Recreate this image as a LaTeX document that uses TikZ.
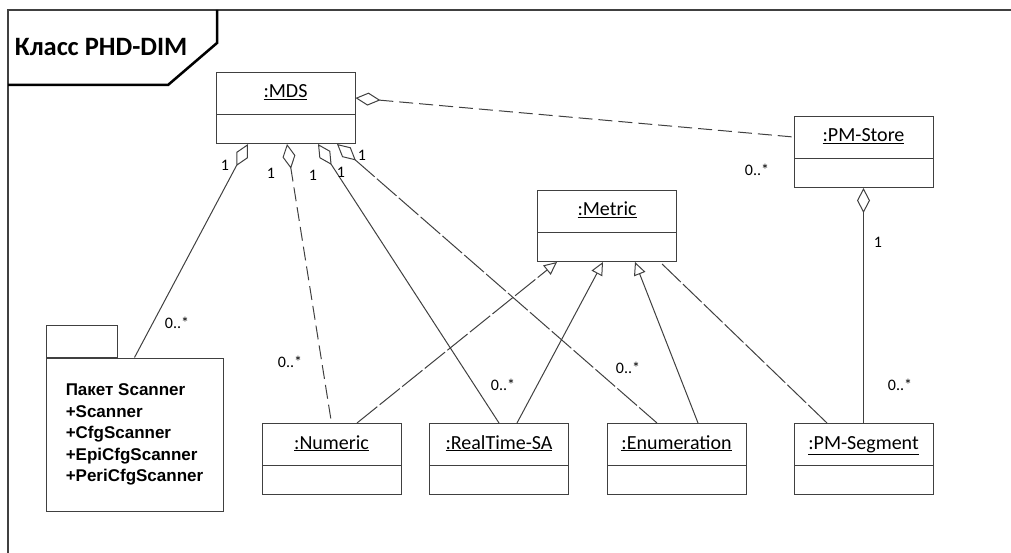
\documentclass[tikz,border=0pt]{standalone}
\usepackage{fontspec}
\setmainfont{Carlito}
\newfontfamily\pkgfont{Liberation Sans}
\usepackage{tikz}
\usetikzlibrary{arrows.meta,shapes.multipart}

\begin{document}
\begin{tikzpicture}[x=1pt, y=-1pt, line width=1pt,
  classbox/.style={rectangle split, rectangle split parts=2, draw=black!75,
    inner xsep=0pt, inner ysep=0pt, text width=139pt, align=center,
    rectangle split empty part height=28pt, anchor=north,
    font=\fontsize{20}{24}\selectfont},
  pkgbox/.style={draw=black!75, minimum width=177pt, minimum height=153pt,
    align=left, font=\pkgfont\bfseries\fontsize{17}{21.5}\selectfont},
  mult/.style={font=\fontsize{16}{18}\selectfont, inner sep=0pt},
  aggr/.style={{Diamond[open,length=25pt,width=13pt]}-, draw=black!75},
  gen/.style={-{Triangle[open,length=13pt,width=12pt]}, draw=black!75},
  dashline/.style={dash pattern=on 14pt off 6pt},
  brokenline/.style={dash pattern=on 26pt off 3pt}]

\useasboundingbox (0,0) rectangle (1011,553);

%% frame and title tab
\draw[line width=2pt, black!75] (1011,10) -- (8,10) -- (8,553);
\draw[line width=2.5pt] (217,10) -- (217,43) -- (168,85) -- (8,85);
\node[font=\bfseries\fontsize{26.5}{30}\selectfont, anchor=west] (title) at (11,47) {Класс PHD-DIM};

%% classes
\path
(285.5,72) node[classbox](mds) {\rule[-16pt]{0pt}{41pt}\underline{:MDS}}
(863.5,116) node[classbox](pmstore) {\rule[-16pt]{0pt}{41pt}\underline{:PM-Store}}
(607,190) node[classbox](metric) {\rule[-16pt]{0pt}{41pt}\underline{:Metric}}
(331.5,423) node[classbox](numeric) {\rule[-16pt]{0pt}{41pt}\underline{:Numeric}}
(499,423) node[classbox](rtsa) {\rule[-16pt]{0pt}{41pt}\underline{:RealTime-SA}}
(676.5,423) node[classbox](enum) {\rule[-16pt]{0pt}{41pt}\underline{:Enumeration}}
(863.5,423) node[classbox](pmseg) {\rule[-16pt]{0pt}{41pt}\underline{:PM-Segment}};

%% scanner package
\node[pkgbox] (pkg) at (134.5,434.5) {Пакет Scanner\\+Scanner\\+CfgScanner\\+EpiCfgScanner\\+PeriCfgScanner};
\node[draw=black!75, minimum width=71pt, minimum height=32pt, inner sep=0pt, anchor=south west] (pkgtab) at (pkg.north west) {};

%% aggregations from MDS
\draw[aggr, dashline] ([yshift=-26pt]mds.north east) -- ([yshift=-21pt]pmstore.north west);
\draw[aggr] ([xshift=-37.5pt]mds.south) -- (pkg.north);
\draw[aggr, dashline] ([xshift=1.5pt]mds.south) -- (numeric.north);
\draw[aggr] ([xshift=32.5pt]mds.south) -- (rtsa.north);
\draw[aggr, brokenline] ([xshift=51.5pt]mds.south) -- ([xshift=-19.5pt]enum.north);
\draw[aggr] (pmstore.south) -- (pmseg.north);

%% generalizations to Metric
\draw[gen, brokenline] ([xshift=25.5pt]numeric.north) -- ([xshift=-50pt]metric.south);
\draw[gen] ([xshift=18pt]rtsa.north) -- ([xshift=-4pt]metric.south);
\draw[gen] ([xshift=21.5pt]enum.north) -- ([xshift=28pt]metric.south);
\draw[draw=black!75, brokenline] ([xshift=-36.5pt]pmseg.north) -- ([xshift=53pt]metric.south);

%% multiplicities
\path
(225,165) node[mult](ma) {1}
(271,173) node[mult](mb) {1}
(313,175) node[mult](mc) {1}
(341,172) node[mult](md) {1}
(362,155) node[mult](me) {1}
(878,242) node[mult](mf) {1}
(177,323) node[mult](na) {0..*}
(290,362) node[mult](nb) {0..*}
(503,385) node[mult](nc) {0..*}
(628,368) node[mult](nd) {0..*}
(757,170) node[mult](ne) {0..*}
(900,385) node[mult](nf) {0..*};

\end{tikzpicture}
\end{document}
